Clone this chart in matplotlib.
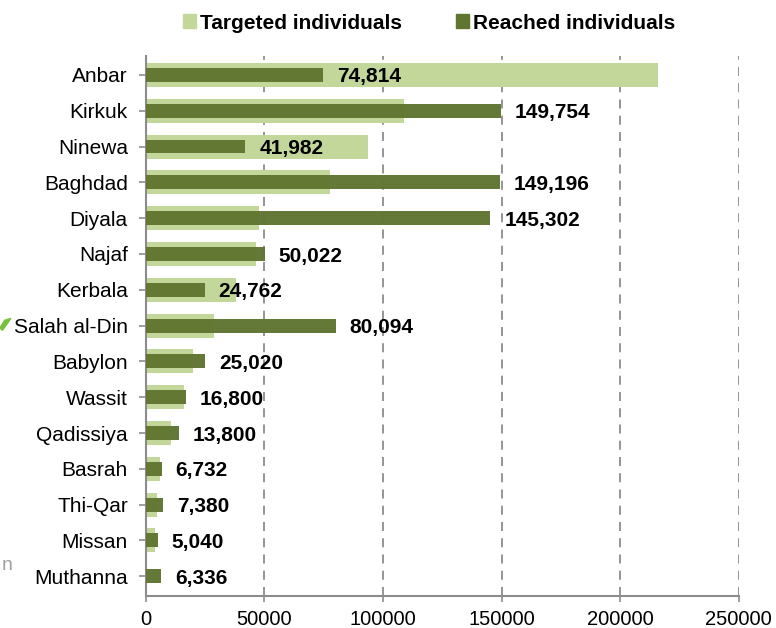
"""Targeted vs reached individuals by governorate, horizontal overlapping bars."""

import matplotlib
matplotlib.use("Agg")
from matplotlib import pyplot as plt
from matplotlib.patches import Patch, Polygon

governorates = [
    "Anbar", "Kirkuk", "Ninewa", "Baghdad", "Diyala", "Najaf", "Kerbala",
    "Salah al-Din", "Babylon", "Wassit", "Qadissiya", "Basrah", "Thi-Qar",
    "Missan", "Muthanna",
]
targeted = [216000, 108700, 93500, 77500, 47600, 46300, 37900,
            28600, 19800, 16000, 10500, 5900, 4600, 3800, 0]
reached = [74814, 149754, 41982, 149196, 145302, 50022, 24762,
           80094, 25020, 16800, 13800, 6732, 7380, 5040, 6336]
x_ticks = [0, 50000, 100000, 150000, 200000, 250000]

light_green = "#C4D79B"
dark_green = "#5F7530"
grey = "#8C8C8C"

plt.rcParams["font.family"] = ["Liberation Sans", "DejaVu Sans"]

fig = plt.figure(figsize=(7.76, 6.28), dpi=100)
ax = fig.add_axes([0.188, 0.051, 0.764, 0.860])

ypos = list(range(len(governorates)))
ax.barh(ypos, targeted, height=0.67, color=light_green, zorder=2)
ax.barh(ypos, reached, height=0.39, color=dark_green, alpha=0.97, zorder=3)

for y, val in zip(ypos, reached):
    ax.annotate(f"{val:,}", xy=(val, y), xytext=(10, -1.5),
                textcoords="offset points", ha="left", va="center",
                fontsize=15, fontweight="bold", color="black", zorder=4)

ax.set_xlim(0, 250000)
ax.set_ylim(len(governorates) - 0.45, -0.53)
ax.set_yticks(ypos)
ax.set_yticklabels(governorates, fontsize=15)
ax.set_xticks(x_ticks)
ax.set_xticklabels([str(t) for t in x_ticks], fontsize=14.5)

ax.xaxis.grid(True, linestyle=(0, (5, 4)), color=grey, linewidth=1.3, zorder=1)
ax.set_axisbelow(True)
for side in ["top", "right"]:
    ax.spines[side].set_visible(False)
for side in ["left", "bottom"]:
    ax.spines[side].set_color(grey)
    ax.spines[side].set_linewidth(1.5)
ax.tick_params(axis="y", length=5, width=1.2, color=grey, pad=8)
ax.tick_params(axis="x", length=4, width=1.2, color=grey, pad=6)

handles = [Patch(color=light_green, label="Targeted individuals"),
           Patch(color=dark_green, label="Reached individuals")]
fig.legend(handles=handles, loc="upper center", bbox_to_anchor=(0.553, 1.008),
           ncol=2, frameon=False, handlelength=0.6, handleheight=0.65,
           handletextpad=0.2, columnspacing=2.6,
           prop={"weight": "bold", "size": 15})

# stray crop remnants at the left edge of the source image
fig.text(0.002, 0.1, "n", fontsize=14, color="#A0A0A0", ha="left", va="center")
fig.patches.append(Polygon([[0.0, 0.478], [0.006, 0.49], [0.014, 0.493],
                            [0.009, 0.484], [0.003, 0.474]],
                           closed=True, transform=fig.transFigure,
                           color="#78C13C", figure=fig))

fig.savefig("out.png", dpi=100)
